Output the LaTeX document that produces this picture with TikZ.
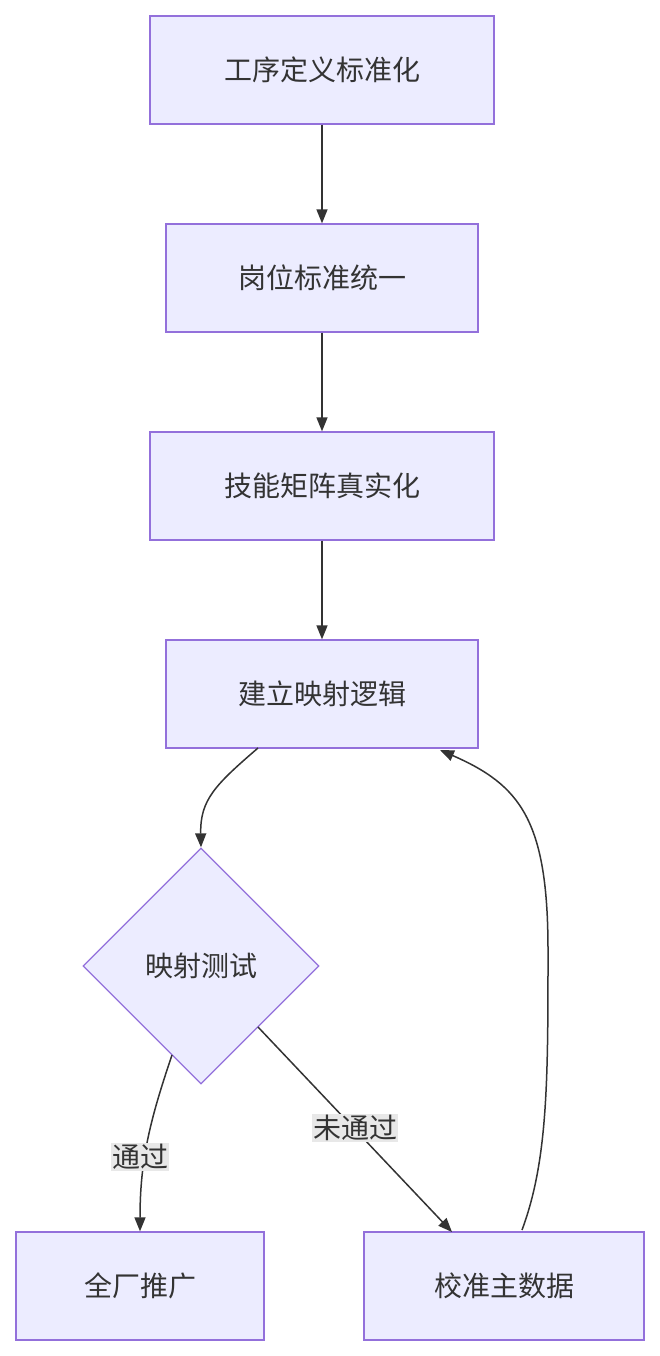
\documentclass[tikz,border=0pt]{standalone}
\usepackage{fontspec}
\setmainfont{Noto Sans CJK SC}
\usetikzlibrary{shapes.geometric,arrows.meta}
\definecolor{boxfill}{HTML}{ECECFF}
\definecolor{boxline}{HTML}{9370DB}
\definecolor{arr}{HTML}{333333}
\definecolor{lbl}{HTML}{E8E8E8}
\begin{document}
\begin{tikzpicture}[x=1pt,y=-1pt,
  box/.style={draw=boxline,fill=boxfill,line width=1.3pt,inner sep=0pt,font=\fontsize{28}{32}\selectfont,text=arr},
  dia/.style={draw=boxline,fill=boxfill,line width=1.3pt,diamond,minimum width=236pt,minimum height=236pt,inner sep=0pt,font=\fontsize{28}{32}\selectfont,text=arr},
  conn/.style={draw=arr,line width=1.5pt,-{Triangle[length=14pt,width=11pt]}},
  elab/.style={fill=lbl,inner sep=1pt,font=\fontsize{28}{32}\selectfont,text=arr}]
\useasboundingbox (0,0) rectangle (660,1356);
\node[box,minimum width=344pt,minimum height=108pt] (a) at (322,70) {工序定义标准化};
\node[box,minimum width=312pt,minimum height=108pt] (b) at (322,278) {岗位标准统一};
\node[box,minimum width=344pt,minimum height=108pt] (c) at (322,486) {技能矩阵真实化};
\node[box,minimum width=312pt,minimum height=108pt] (d) at (322,694) {建立映射逻辑};
\node[dia] (t) at (201,966) {映射测试};
\node[box,minimum width=248pt,minimum height=108pt] (e) at (140,1286) {全厂推广};
\node[box,minimum width=280pt,minimum height=108pt] (f) at (504,1286) {校准主数据};
\draw[conn] (a) -- (b);
\draw[conn] (b) -- (c);
\draw[conn] (c) -- (d);
\draw[conn] (258,748) .. controls (215,785) and (200,800) .. (t.north);
\draw[conn] (172,1055) .. controls (150,1120) and (140,1160) .. (e.north);
\node[elab] at (140,1157) {通过};
\draw[conn] (258,1027) -- (452,1232);
\node[elab] at (355,1128) {未通过};
\draw[conn] (522,1230) .. controls (548,1160) and (548,1080) .. (548,950) .. controls (548,820) and (520,785) .. (440,750);
\end{tikzpicture}
\end{document}
